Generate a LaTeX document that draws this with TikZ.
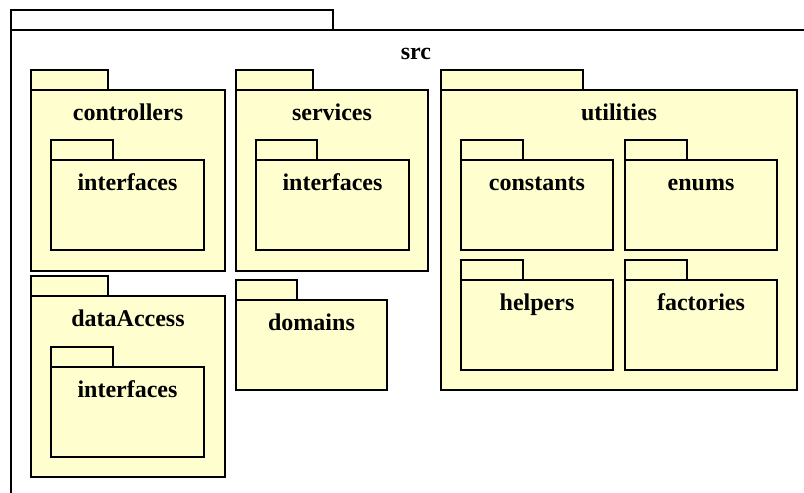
\documentclass[tikz,border=0pt]{standalone}
\usepackage{fontspec}
\setmainfont{Liberation Serif}
\usepackage{tikz}
\usetikzlibrary{positioning}

\definecolor{pkgfill}{HTML}{FEFECE}

\begin{document}
\begin{tikzpicture}[
    x=1pt, y=-1pt,
    pkg/.style={draw, line width=2.7pt, fill=pkgfill, anchor=north west, inner sep=0pt, outer sep=0pt, minimum height=90pt},
    tab/.style={draw, line width=2.7pt, fill=pkgfill, anchor=south west, inner sep=0pt, outer sep=0pt, minimum height=20pt},
    ttl/.style={font=\fontsize{24}{24}\selectfont\bfseries, anchor=base, inner sep=0pt}
]
\useasboundingbox (0,0) rectangle (804,493);
\clip (0,0) rectangle (804,493);

% outer package
\node[pkg, fill=white, minimum width=810pt, minimum height=480pt] (src) at (11,30) {};
\node[tab, fill=white, minimum width=322pt] (srctab) at (src.north west) {};
\node[ttl] (srcname) at ([yshift=-29.5pt]src.north) {src};

% controllers
\node[pkg, minimum width=194pt, minimum height=181pt] (ctrl) at (31,90) {};
\node[tab, minimum width=77pt] (ctrltab) at (ctrl.north west) {};
\node[ttl] (ctrlname) at ([yshift=-30pt]ctrl.north) {controllers};
\node[pkg, minimum width=153pt] (ctrlif) at (51,160) {};
\node[tab, minimum width=62pt] (ctrliftab) at (ctrlif.north west) {};
\node[ttl] (ctrlifname) at ([yshift=-30pt]ctrlif.north) {interfaces};

% services
\node[pkg, minimum width=192pt, minimum height=181pt] (serv) at (236,90) {};
\node[tab, minimum width=77pt] (servtab) at (serv.north west) {};
\node[ttl] (servname) at ([yshift=-30pt]serv.north) {services};
\node[pkg, minimum width=153pt] (servif) at (256,160) {};
\node[tab, minimum width=61pt] (serviftab) at (servif.north west) {};
\node[ttl] (servifname) at ([yshift=-30pt]servif.north) {interfaces};

% utilities
\node[pkg, minimum width=356pt, minimum height=300pt] (util) at (441,90) {};
\node[tab, minimum width=142pt] (utiltab) at (util.north west) {};
\node[ttl] (utilname) at ([yshift=-30pt]util.north) {utilities};
\node[pkg, minimum width=152pt] (const) at (461,160) {};
\node[tab, minimum width=62pt] (consttab) at (const.north west) {};
\node[ttl] (constname) at ([yshift=-30pt]const.north) {constants};
\node[pkg, minimum width=152pt] (enums) at (625,160) {};
\node[tab, minimum width=62pt] (enumstab) at (enums.north west) {};
\node[ttl] (enumsname) at ([yshift=-30pt]enums.north) {enums};
\node[pkg, minimum width=152pt] (help) at (461,280) {};
\node[tab, minimum width=62pt] (helptab) at (help.north west) {};
\node[ttl] (helpname) at ([yshift=-30pt]help.north) {helpers};
\node[pkg, minimum width=152pt] (fact) at (625,280) {};
\node[tab, minimum width=62pt] (facttab) at (fact.north west) {};
\node[ttl] (factname) at ([yshift=-30pt]fact.north) {factories};

% dataAccess
\node[pkg, minimum width=194pt, minimum height=181pt] (data) at (31,296) {};
\node[tab, minimum width=77pt] (datatab) at (data.north west) {};
\node[ttl] (dataname) at ([yshift=-30pt]data.north) {dataAccess};
\node[pkg, minimum width=153pt] (dataif) at (51,367) {};
\node[tab, minimum width=62pt] (dataiftab) at (dataif.north west) {};
\node[ttl] (dataifname) at ([yshift=-30pt]dataif.north) {interfaces};

% domains
\node[pkg, minimum width=151pt] (dom) at (236,300) {};
\node[tab, minimum width=61pt] (domtab) at (dom.north west) {};
\node[ttl] (domname) at ([yshift=-30pt]dom.north) {domains};
\end{tikzpicture}
\end{document}
